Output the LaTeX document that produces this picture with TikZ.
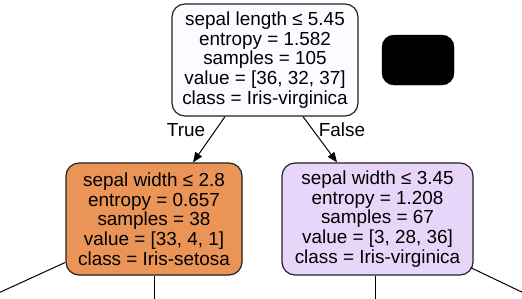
\documentclass[tikz,border=0pt]{standalone}
\usepackage{fontspec}
\setmainfont{Liberation Sans}
\usetikzlibrary{arrows.meta}
\definecolor{rootfill}{HTML}{FDFBFF}
\definecolor{leftfill}{HTML}{EA9457}
\definecolor{rightfill}{HTML}{E8D6FA}
\definecolor{edgegray}{HTML}{222222}
\begin{document}
\begin{tikzpicture}[x=1pt,y=-1pt,
  treenode/.style={draw=edgegray, line width=1.2pt, rounded corners=13pt,
    minimum height=112pt, inner sep=0pt, align=center,
    font=\fontsize{18.9}{19.7}\selectfont},
  blackbox/.style={fill=black, draw=black, rounded corners=12pt,
    minimum width=72pt, minimum height=50pt, inner sep=0pt},
  edgeline/.style={line width=1pt, draw=black},
  edgearrow/.style={edgeline, -{Triangle[length=10pt,width=8pt]}},
  edgelabel/.style={font=\fontsize{18.9}{19.7}\selectfont, inner sep=0pt}]
\useasboundingbox (0,0) rectangle (522,298);
\clip (0,0) rectangle (522,298);
\node[treenode, fill=rootfill, minimum width=186pt] (root) at (265,60)
  {sepal length ≤ 5.45\\entropy = 1.582\\samples = 105\\value = [36, 32, 37]\\class = Iris-virginica};
\node[blackbox] (hidden) at (418,60) {};
\node[treenode, fill=leftfill, minimum width=176pt] (left) at (154,219)
  {sepal width ≤ 2.8\\entropy = 0.657\\samples = 38\\value = [33, 4, 1]\\class = Iris-setosa};
\node[treenode, fill=rightfill, minimum width=191pt] (right) at (377.5,219)
  {sepal width ≤ 3.45\\entropy = 1.208\\samples = 67\\value = [3, 28, 36]\\class = Iris-virginica};
\draw[edgearrow] ([xshift=-40pt]root.south) -- ([xshift=39pt]left.north);
\draw[edgearrow] ([xshift=38pt]root.south) -- ([xshift=-40.5pt]right.north);
\node[edgelabel] (ltrue) at (186,130) {True};
\node[edgelabel] (lfalse) at (342,130) {False};
\coordinate (lla) at (-30,306);
\coordinate (llb) at (154,310);
\coordinate (rra) at (375,310);
\coordinate (rrb) at (550,305.5);
\draw[edgeline] ([xshift=-0.5pt,yshift=13pt]left.south west) -- (lla);
\draw[edgeline] (left.south) -- (llb);
\draw[edgeline] ([xshift=-2.5pt]right.south) -- (rra);
\draw[edgeline] ([xshift=-3pt,yshift=8pt]right.south east) -- (rrb);
\end{tikzpicture}
\end{document}
